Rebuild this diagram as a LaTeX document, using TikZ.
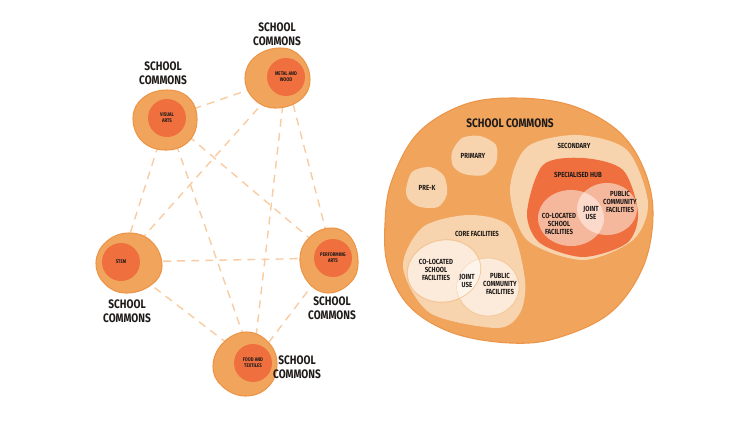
\documentclass[tikz,border=0pt]{standalone}
\usepackage{fontspec}
\setmainfont{Fira Sans}[FakeStretch=0.82]
\usetikzlibrary{positioning}
\definecolor{commons}{HTML}{F0A45C}
\definecolor{commonsedge}{HTML}{EC9548}
\definecolor{hot}{HTML}{EF6F3F}
\definecolor{peach}{HTML}{F8D4AE}
\definecolor{pale}{HTML}{FCEADA}
\definecolor{paleedge}{HTML}{F4C596}
\definecolor{palest}{HTML}{FDF4EC}
\definecolor{rose}{HTML}{F6B89C}
\definecolor{roselight}{HTML}{FBDACB}
\definecolor{dashcol}{HTML}{F9CBA2}
\definecolor{ink}{HTML}{1E1A18}
\pgfdeclarelayer{background}
\pgfsetlayers{background,main}

\begin{document}
\begin{tikzpicture}[x=0.02cm, y=-0.02cm,
  blob/.style={fill=commons, draw=commonsedge, line width=0.6pt},
  core/.style={circle, fill=hot, inner sep=0pt, minimum size=0.76cm,
    font=\fontsize{3}{3.6}\selectfont\bfseries, align=center, text=ink},
  tag/.style={font=\fontsize{7}{8}\selectfont\bfseries, align=center, text=ink},
  smalltext/.style={font=\fontsize{4.2}{4.8}\selectfont\bfseries, align=center, text=ink},
  link/.style={draw=dashcol, dash pattern=on 4.5pt off 3.5pt, line width=0.8pt}]
  \useasboundingbox (0,0) rectangle (750,420);

  % ---------- network of school commons ----------
  % outer blobs
  \draw[blob, shift={(165,120)}] plot[smooth cycle, tension=0.7] coordinates
    {(-32,-2) (-22,-22) (2,-30) (24,-22) (32,0) (23,22) (0,30) (-23,21)};
  \draw[blob, shift={(277,78)}] plot[smooth cycle, tension=0.7] coordinates
    {(-32,0) (-22,-21) (3,-30) (24,-21) (33,2) (23,22) (-2,30) (-23,21)};
  \draw[blob, shift={(129,263)}] plot[smooth cycle, tension=0.7] coordinates
    {(-33,0) (-23,-21) (0,-30) (23,-21) (33,3) (22,22) (-3,30) (-24,21)};
  \draw[blob, shift={(329,260)}] plot[smooth cycle, tension=0.7] coordinates
    {(-29,-2) (-19,-23) (3,-32) (22,-22) (29,3) (21,23) (-1,33) (-21,22)};
  \draw[blob, shift={(245,364)}] plot[smooth cycle, tension=0.7] coordinates
    {(-32,2) (-22,-21) (1,-32) (23,-22) (32,0) (23,23) (0,32) (-23,22)};

  % inner circles
  \node[core] (va) at (167,118) {VISUAL\\ARTS};
  \node[core] (mw) at (286,77) {METAL AND\\WOOD};
  \node[core] (stem) at (121,262) {STEM};
  \node[core] (pa) at (333,258) {PERFORMING\\ARTS};
  \node[core] (ft) at (253,363) {FOOD AND\\TEXTILES};

  % labels
  \node[tag] (vaname) at (163,73) {SCHOOL\\COMMONS};
  \node[tag] (mwname) at (277,34) {SCHOOL\\COMMONS};
  \node[tag] (stemname) at (127,311) {SCHOOL\\COMMONS};
  \node[tag] (paname) at (332,308) {SCHOOL\\COMMONS};
  \node[tag] (ftname) at (297,367) {SCHOOL\\COMMONS};

  % links between all commons
  \begin{pgfonlayer}{background}
    \foreach \a/\b in {va/mw, va/stem, va/pa, va/ft, mw/stem, mw/pa, mw/ft,
                       stem/pa, stem/ft, pa/ft}
      \draw[link] (\a.center) -- (\b.center);
  \end{pgfonlayer}

  % ---------- one school commons ----------
  \draw[blob] plot[smooth cycle, tension=0.6] coordinates
    {(385,223) (392,180) (418,133) (463,105) (513,98) (570,105) (617,130)
     (643,167) (653,213) (643,267) (610,313) (557,338) (510,343) (453,333)
     (410,307) (388,267)};
  \node[tag] (title) at (510,123) {SCHOOL COMMONS};

  % primary and pre-k
  \fill[peach] plot[smooth cycle] coordinates
    {(452,152) (462,138) (480,136) (496,145) (496,163) (484,175) (464,174) (453,166)};
  \node[smalltext] (primary) at (473,156) {PRIMARY};
  \fill[peach] plot[smooth cycle] coordinates
    {(406,190) (412,172) (430,167) (444,176) (447,194) (438,207) (420,207) (409,200)};
  \node[smalltext] (prek) at (427,188) {PRE-K};

  % secondary with specialised hub
  \fill[peach] plot[smooth cycle] coordinates
    {(510,190) (527,147) (577,135) (627,150) (648,203) (633,240) (583,260) (527,240)};
  \node[smalltext] (secondary) at (574,146) {SECONDARY};
  \fill[hot] plot[smooth cycle] coordinates
    {(527,213) (543,165) (583,158) (623,170) (638,213) (627,243) (583,257) (540,243)};
  \node[smalltext] (hub) at (578,175) {SPECIALISED HUB};
  \fill[rose] (571,218) ellipse [x radius=33, y radius=28];
  \fill[rose] (607,209) ellipse [x radius=30, y radius=26];
  \begin{scope}
    \clip (571,218) ellipse [x radius=33, y radius=28];
    \fill[roselight] (607,209) ellipse [x radius=30, y radius=26];
  \end{scope}
  \node[smalltext] (hubschool) at (559,224) {CO-LOCATED\\SCHOOL\\FACILITIES};
  \node[smalltext] (hubjoint) at (591,213) {JOINT\\USE};
  \node[smalltext] (hubpublic) at (620,202) {PUBLIC\\COMMUNITY\\FACILITIES};

  % core facilities
  \fill[peach] plot[smooth cycle] coordinates
    {(403,267) (423,227) (470,215) (510,227) (525,280) (520,313) (497,328) (430,313)};
  \node[smalltext] (corename) at (477,234) {CORE FACILITIES};
  \draw[fill=pale, draw=paleedge, line width=0.4pt, rotate around={12:(444,271)}]
    (444,271) ellipse [x radius=37, y radius=31];
  \draw[fill=pale, draw=paleedge, line width=0.4pt] (488,287) ellipse [x radius=31, y radius=29];
  \begin{scope}
    \clip[rotate around={12:(444,271)}] (444,271) ellipse [x radius=37, y radius=31];
    \fill[palest] (488,287) ellipse [x radius=31, y radius=29];
  \end{scope}
  \draw[paleedge, line width=0.4pt, rotate around={12:(444,271)}]
    (444,271) ellipse [x radius=37, y radius=31];
  \node[smalltext] (coreschool) at (436,270) {CO-LOCATED\\SCHOOL\\FACILITIES};
  \node[smalltext] (corejoint) at (467,281) {JOINT\\USE};
  \node[smalltext] (corepublic) at (500,284) {PUBLIC\\COMMUNITY\\FACILITIES};
\end{tikzpicture}
\end{document}
